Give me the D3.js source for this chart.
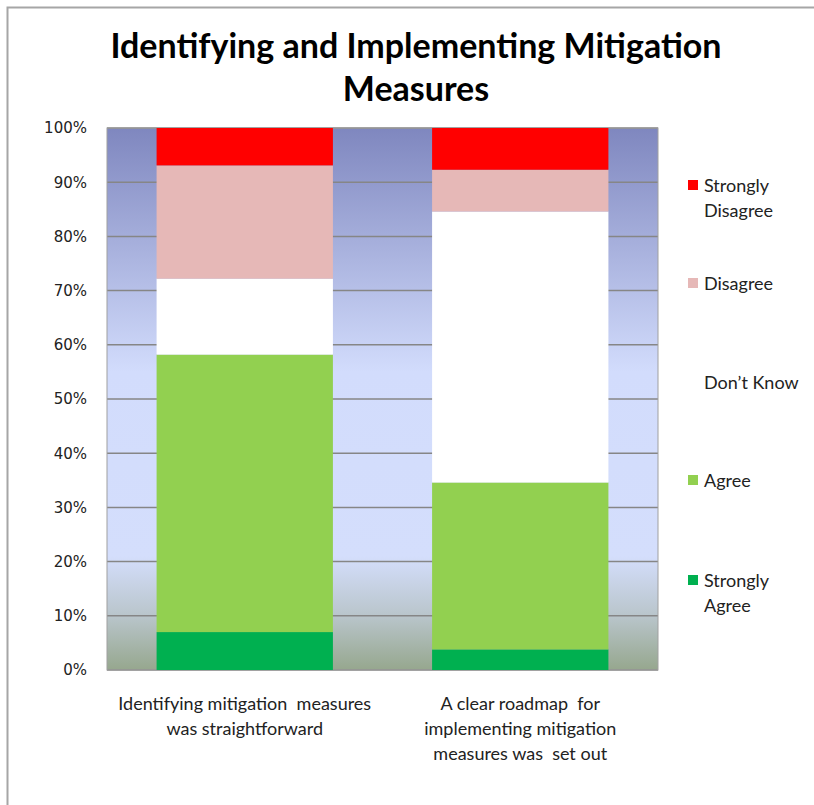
<!DOCTYPE html>
<html>
<head>
<meta charset="utf-8">
<script src="https://cdn.jsdelivr.net/npm/d3@7"></script>
<style>
  body { margin: 0; background: #fff; }
  svg { display: block; }
</style>
</head>
<body>
<svg id="chart" width="814" height="805"></svg>
<script>
// survey responses, % of respondents
var categories = [
    ["Identifying mitigation  measures", "was straightforward"],
    ["A clear roadmap  for", "implementing mitigation", "measures was  set out"]
]
var responses = ["Strongly Agree", "Agree", "Don\u2019t Know", "Disagree", "Strongly Disagree"]
var stronglyAgree = [7.0, 3.8]
var agree = [51.2, 30.8]
var dontKnow = [14.0, 50.0]
var disagree = [20.9, 7.7]
var stronglyDisagree = [7.0, 7.7]
var yTicks = [0, 10, 20, 30, 40, 50, 60, 70, 80, 90, 100]

var colors = {
    "Strongly Agree": "#00b050",
    "Agree": "#92d050",
    "Don\u2019t Know": "#ffffff",
    "Disagree": "#e6b8b7",
    "Strongly Disagree": "#ff0000"
}

var margins = {left: 107, top: 128, right: 156, bottom: 135}
var outerWidth = 814, outerHeight = 805
var innerWidth = outerWidth - margins.left - margins.right
var innerHeight = outerHeight - margins.top - margins.bottom

var svg = d3.select("svg#chart")

// outer frame
svg.append("path")
    .attr("d", "M7.5,805 V7.5 H814")
    .attr("fill", "none")
    .attr("stroke", "#a6a6a6")
    .attr("stroke-width", 2)

// title
var titleFont = "Lato, 'Open Sans', sans-serif"
svg.append("text")
    .attr("x", 416).attr("y", 58)
    .attr("text-anchor", "middle")
    .attr("font-family", titleFont)
    .attr("font-weight", "bold")
    .attr("font-size", "34px")
    .text("Identifying and Implementing Mitigation")
svg.append("text")
    .attr("x", 416).attr("y", 101)
    .attr("text-anchor", "middle")
    .attr("font-family", titleFont)
    .attr("font-weight", "bold")
    .attr("font-size", "34px")
    .text("Measures")

var defs = svg.append("defs")
var grad = defs.append("linearGradient")
    .attr("id", "bg").attr("x1", 0).attr("y1", 0).attr("x2", 0).attr("y2", 1)
var stops = [[0, "#7f87bf"], [0.45, "#d2dcfc"], [0.79, "#d4defc"], [0.9, "#b9c5cb"], [1, "#96a78e"]]
stops.forEach(function(s) {
    grad.append("stop").attr("offset", s[0]).attr("stop-color", s[1])
})

var plot = svg.append("g")
    .attr("transform", "translate(" + margins.left + "," + margins.top + ")")

var xScale = d3.scaleBand().domain(d3.range(categories.length)).range([0, innerWidth]).paddingInner(0.36).paddingOuter(0.18)
var yScale = d3.scaleLinear().domain([0, 100]).range([innerHeight, 0])

plot.append("rect")
    .attr("width", innerWidth)
    .attr("height", innerHeight)
    .attr("fill", "url(#bg)")

plot.selectAll(".grid")
    .data(yTicks)
    .join("line")
    .attr("class", "grid")
    .attr("x1", 0).attr("x2", innerWidth)
    .attr("y1", function(d) { return yScale(d) })
    .attr("y2", function(d) { return yScale(d) })
    .attr("stroke", "#868686")
    .attr("stroke-width", 1.5)

plot.append("rect")
    .attr("width", innerWidth)
    .attr("height", innerHeight)
    .attr("fill", "none")
    .attr("stroke", "#a0a0a0")
    .attr("stroke-width", 1)

// stack the series
var rows = categories.map(function(c, i) {
    return {
        i: i,
        "Strongly Agree": stronglyAgree[i],
        "Agree": agree[i],
        "Don\u2019t Know": dontKnow[i],
        "Disagree": disagree[i],
        "Strongly Disagree": stronglyDisagree[i]
    }
})
var series = d3.stack().keys(responses)(rows)

plot.selectAll(".series")
    .data(series)
    .join("g")
    .attr("class", "series")
    .attr("fill", function(d) { return colors[d.key] })
    .selectAll("rect")
    .data(function(d) { return d })
    .join("rect")
    .attr("x", function(d) { return xScale(d.data.i) })
    .attr("y", function(d) { return yScale(Math.min(d[1], 100)) })
    .attr("width", xScale.bandwidth())
    .attr("height", function(d) { return yScale(d[0]) - yScale(Math.min(d[1], 100)) })

// y axis labels
var yAxis = plot.append("g")
    .call(d3.axisLeft(yScale).tickValues(yTicks).tickFormat(function(d) { return d + "%" }).tickSize(0).tickPadding(20))
yAxis.select(".domain").remove()
yAxis.selectAll("text")
    .attr("font-family", "'DejaVu Sans', Verdana, sans-serif")
    .attr("font-size", "15px")
    .attr("fill", "#222")

// x labels
var labelFont = "Lato, 'Open Sans', sans-serif"
categories.forEach(function(lines, i) {
    var t = plot.append("text")
        .attr("text-anchor", "middle")
        .attr("font-family", labelFont)
        .attr("font-size", "18px")
        .attr("fill", "#222")
    lines.forEach(function(line, j) {
        t.append("tspan")
            .attr("x", xScale(i) + xScale.bandwidth() / 2)
            .attr("y", innerHeight + 40 + j * 25)
            .attr("xml:space", "preserve")
            .text(line)
    })
})

// legend
var legendItems = [
    {key: "Strongly Disagree", lines: ["Strongly", "Disagree"], y: 180},
    {key: "Disagree", lines: ["Disagree"], y: 278},
    {key: "Don\u2019t Know", lines: ["Don\u2019t Know"], y: 377},
    {key: "Agree", lines: ["Agree"], y: 475},
    {key: "Strongly Agree", lines: ["Strongly", "Agree"], y: 575}
]
var legend = svg.append("g")
legendItems.forEach(function(item) {
    legend.append("rect")
        .attr("x", 688).attr("y", item.y)
        .attr("width", 10).attr("height", 10)
        .attr("fill", colors[item.key])
    var t = legend.append("text")
        .attr("font-family", labelFont)
        .attr("font-size", "18px")
        .attr("fill", "#222")
    item.lines.forEach(function(line, j) {
        t.append("tspan")
            .attr("x", 704)
            .attr("y", item.y + 12 + j * 25)
            .text(line)
    })
})
</script>
</body>
</html>
